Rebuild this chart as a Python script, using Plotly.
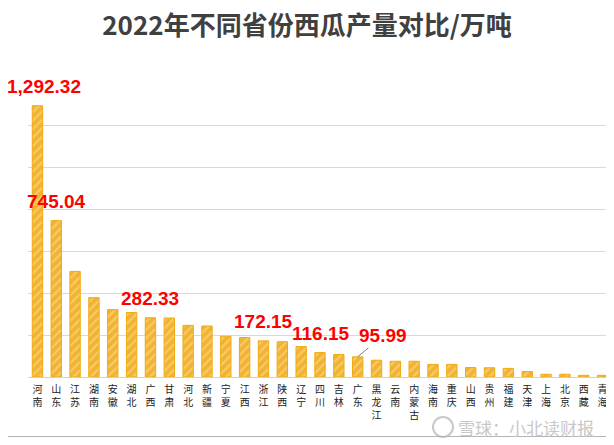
import plotly.graph_objects as go

provinces = ["河南", "山东", "江苏", "湖南", "安徽", "湖北", "广西", "甘肃", "河北", "新疆",
             "宁夏", "江西", "浙江", "陕西", "辽宁", "四川", "吉林", "广东", "黑龙江", "云南",
             "内蒙古", "海南", "重庆", "山西", "贵州", "福建", "天津", "上海", "北京", "西藏", "青海"]
output = [1292.32, 745.04, 503, 378, 321, 307, 282.33, 281, 246, 243,
          194, 188, 172.15, 168, 145, 116.15, 107, 95.99, 80, 75,
          75, 60, 60, 45, 44, 41, 26, 13, 13, 8, 8]
labeled = ["河南", "山东", "广西", "浙江", "四川", "广东"]

# page body adds an 8px margin, so the figure is drawn 8px smaller and offset
OFF = 8
W, H = 614 - OFF, 445 - OFF
ML, MR, MT, MB = 20, 2, 75, 68
pw, ph = W - ML - MR, H - MT - MB

def px(x):
    return (x - OFF - ML) / pw

def py(y):
    return (H - MB - (y - OFF)) / ph

ticktext = ["<br>".join(p) for p in provinces]

fig = go.Figure()
fig.add_trace(go.Bar(
    x=provinces, y=output, width=0.55,
    marker=dict(color="#F2B330",
                line=dict(color="#F0AA10", width=1),
                pattern=dict(shape="/", fgcolor="#FBE3B0", bgcolor="#F2B330",
                             size=6, solidity=0.35, fillmode="overlay")),
    hoverinfo="x+y"))

lab_font = dict(family="Liberation Sans, Arial", size=19, color="#FF0000")
for name in labeled:
    v = output[provinces.index(name)]
    txt = f"<b>{v:,.2f}</b>"
    if name == "广东":
        fig.add_annotation(x=name, y=v, text=txt, showarrow=True, arrowhead=0,
                           arrowwidth=1, arrowcolor="#808080", ax=25, ay=-21, font=lab_font)
    else:
        fig.add_annotation(x=name, y=v, text=txt, showarrow=False,
                           yanchor="middle", yshift=19, xshift=7 if name == "河南" else 0,
                           font=lab_font)

# watermark
fig.add_annotation(xref="paper", yref="paper", x=px(526), y=py(427), text="雪球：小北读财报",
                   showarrow=False, xanchor="center", yanchor="middle",
                   font=dict(family="Noto Sans CJK SC", size=17, color="#C8C8C8"))
fig.add_shape(type="circle", xref="paper", yref="paper", xsizemode="pixel", ysizemode="pixel",
              xanchor=px(443), yanchor=py(427), x0=-10, x1=10, y0=-10, y1=10,
              line=dict(color="#C8C8C8", width=2))
# outer border (bottom and right edges, the others fall outside the figure)
fig.add_shape(type="path", xref="paper", yref="paper",
              path=f"M {px(8)},{py(436.5)} L {px(611.5)},{py(436.5)} L {px(611.5)},{py(8)}",
              line=dict(color="#B4B4B4", width=1))

fig.update_layout(
    width=W, height=H, margin=dict(l=ML, r=MR, t=MT, b=MB),
    paper_bgcolor="white", plot_bgcolor="white", showlegend=False,
    title=dict(text="<b>2022年不同省份西瓜产量对比/万吨</b>", x=(307 - OFF) / W, xanchor="center",
               y=1 - (26 - OFF) / H, yanchor="middle",
               font=dict(family="Noto Sans CJK SC", size=26, color="#404040")),
)
fig.update_xaxes(range=[-0.5, len(provinces) - 0.5], tickmode="array", tickvals=provinces,
                 ticktext=ticktext, tickangle=0,
                 tickfont=dict(family="Noto Sans CJK SC", size=10, color="#222"),
                 showline=True, linecolor="#D0D0D0", ticks="", showgrid=False,
                 automargin=False, ticklabelstandoff=3)
fig.update_yaxes(range=[0, 1400.5], dtick=200, showticklabels=False, showgrid=True,
                 gridcolor="#D9D9D9", zeroline=False, automargin=False)

fig.write_html("out.html")
